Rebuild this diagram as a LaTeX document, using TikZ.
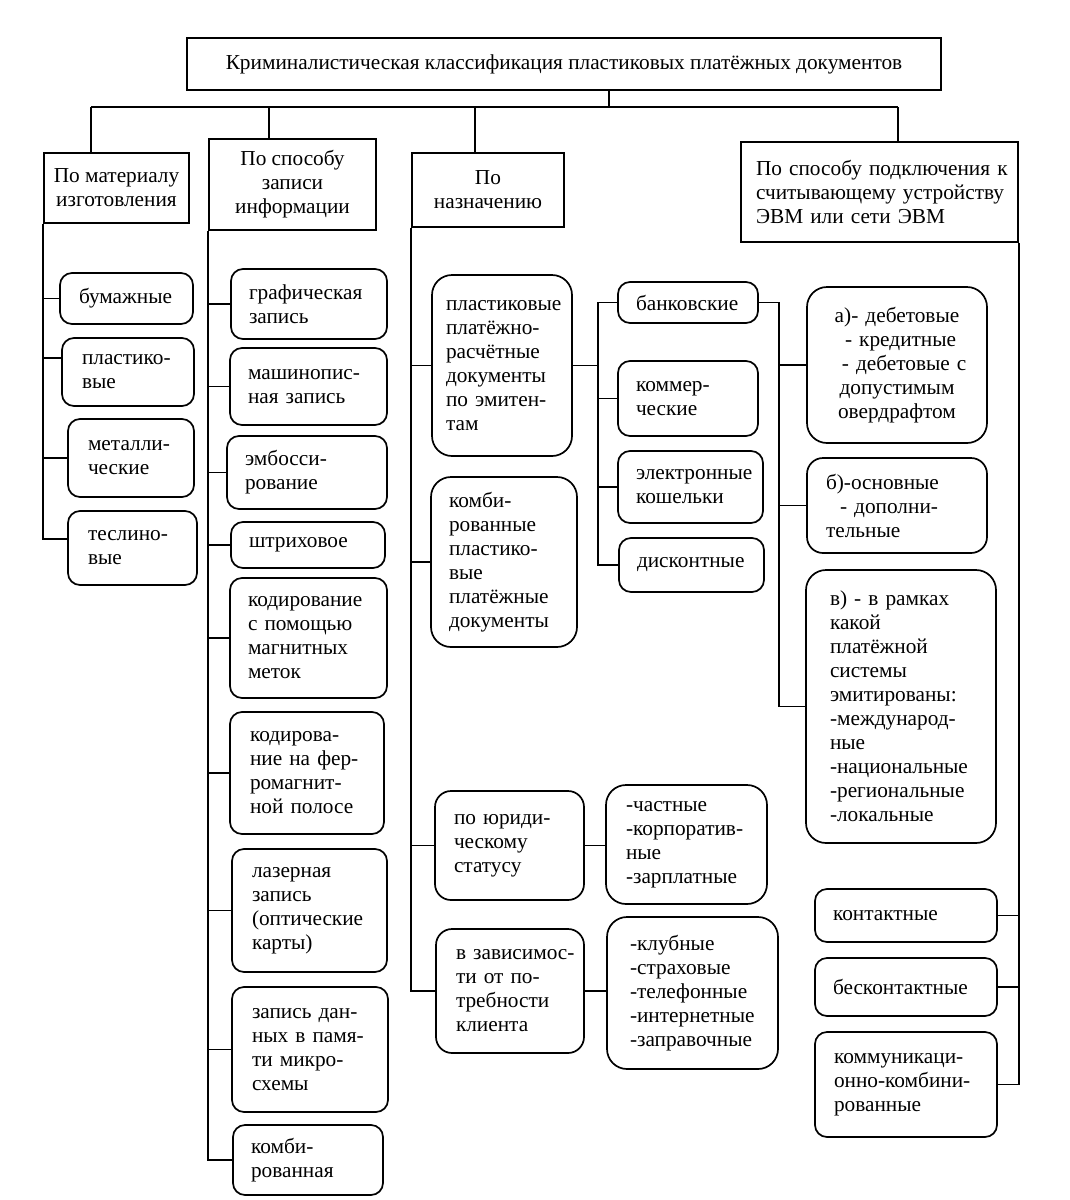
\documentclass[tikz,border=0pt]{standalone}
\usepackage{fontspec}
\setmainfont{Liberation Serif}
\usepackage{tikz}
\tikzstyle{head} = [rectangle, draw=black, line width=1.7pt, inner xsep=14pt, inner ysep=0pt, align=center]
\tikzstyle{leaf} = [rectangle, rounded corners=12pt, draw=black, line width=1.7pt, inner xsep=18pt, inner ysep=0pt, align=left, execute at begin node={\exhyphenpenalty=10000}]
\tikzstyle{bigleaf} = [leaf, rounded corners=20pt]
\tikzstyle{line} = [draw, line width=1.7pt]

\begin{document}
\begin{tikzpicture}[x=1pt, y=-1pt, font=\fontsize{21.3}{24}\selectfont]
    \useasboundingbox (0,0) rectangle (1069,1200);
    % Nodes
    \node [head, minimum width=754pt, minimum height=52pt] (title) at (564,64) {Криминалистическая классификация пластиковых платёжных документов};
    \node [head, minimum width=145pt, minimum height=70pt, inner xsep=2pt] (mat) at (116.5,188) {По материалу\\изготовления};
    \node [head, minimum width=167pt, minimum height=91pt] (zap) at (292.5,184.5) {По способу\\записи\\информации};
    \node [head, minimum width=152pt, minimum height=74pt] (nazn) at (488,190) {По\\назначению};
    \node [head, align=left, text width=247pt, minimum height=100pt, inner xsep=15pt] (con) at (879.5,192) {По~способу~подключения~к\\считывающему~устройству\\ЭВМ~или~сети~ЭВМ};

    % material
    \node [leaf, text width=95pt, minimum height=51pt, inner xsep=19pt] (bum) at (126.5,298.5) {бумажные};
    \node [leaf, text width=92pt, minimum height=68pt, inner xsep=20pt] (plast) at (128,372) {пластико-\\вые};
    \node [leaf, text width=86pt, minimum height=78pt, inner xsep=20pt] (met) at (131,458) {металли-\\ческие};
    \node [leaf, text width=89pt, minimum height=74pt, inner xsep=20pt] (tesl) at (132.5,548) {теслино-\\вые};

    % recording
    \node [leaf, text width=120pt, minimum height=70pt] (graf) at (309,304) {графическая\\запись};
    \node [leaf, text width=121pt, minimum height=77pt] (mash) at (308.5,386.5) {машинопис-\\ная~запись};
    \node [leaf, text width=124pt, minimum height=73pt] (emb) at (307,472.5) {эмбосси-\\рование};
    \node [leaf, text width=118pt, minimum height=46pt] (shtr) at (308,545) {штриховое};
    \node [leaf, text width=121pt, minimum height=120pt] (magn) at (308.5,638) {кодирование\\с~помощью\\магнитных\\меток};
    \node [leaf, text width=114pt, minimum height=122pt, inner xsep=20pt] (ferro) at (307,773) {кодирова-\\ние~на~фер-\\ромагнит-\\ной~полосе};
    \node [leaf, text width=115pt, minimum height=123pt, inner xsep=20pt] (laser) at (309.5,910.5) {лазерная\\запись\\(оптические\\карты)};
    \node [leaf, text width=116pt, minimum height=125pt, inner xsep=20pt] (micro) at (310,1049.5) {запись~дан-\\ных~в~памя-\\ти~микро-\\схемы};
    \node [leaf, text width=114pt, minimum height=70pt] (kombz) at (308,1160) {комби-\\рованная};

    % purpose
    \node [bigleaf, text width=112pt, minimum height=181pt, inner xsep=14pt] (plat) at (502,365.5) {пластиковые\\платёжно-\\расчётные\\документы\\по~эмитен-\\там};
    \node [bigleaf, text width=110pt, minimum height=170pt] (kombd) at (504,562) {комби-\\рованные\\пластико-\\вые\\платёжные\\документы};
    \node [leaf, rounded corners=16pt, text width=111pt, minimum height=109pt, inner xsep=19pt] (yur) at (509.5,845.5) {по~юриди-\\ческому\\статусу};
    \node [leaf, rounded corners=16pt, text width=108pt, minimum height=124pt, inner xsep=20pt] (zavis) at (510,991) {в~зависимос-\\ти~от~по-\\требности\\клиента};
    \node [bigleaf, text width=121pt, minimum height=119pt, inner xsep=20pt] (chast) at (686.5,844.5) {-частные\\-корпоратив-\\ные\\-зарплатные};
    \node [bigleaf, text width=125pt, minimum height=152pt, inner xsep=23pt] (klub) at (692.5,993) {-клубные\\-страховые\\-телефонные\\-интернетные\\-заправочные};

    % issuers
    \node [leaf, text width=104pt, minimum height=41pt] (bank) at (688,302.5) {банковские};
    \node [leaf, text width=104pt, minimum height=75pt] (comm) at (688,398.5) {коммер-\\ческие};
    \node [leaf, text width=109pt, minimum height=72pt] (elec) at (690.5,487) {электронные\\кошельки};
    \node [leaf, text width=109pt, minimum height=54pt] (disc) at (691.5,565) {дисконтные};

    % bank cards
    \node [bigleaf, align=center, text width=148pt, minimum height=156pt, inner xsep=16pt] (adeb) at (897,365) {а)-~дебетовые\\ \ -~кредитные\\ \ \ -~дебетовые~с\\допустимым\\овердрафтом};
    \node [leaf, rounded corners=16pt, text width=142pt, minimum height=95pt, inner xsep=19pt] (bosn) at (897,505.5) {б)-основные\\\hspace*{14pt}-~дополни-\\тельные};
    \node [bigleaf, text width=142pt, minimum height=273pt, inner xsep=24pt] (vsys) at (901,706.5) {в)~-~в~рамках\\какой\\платёжной\\системы\\эмитированы:\\-международ-\\ные\\-национальные\\-региональные\\-локальные};

    % connection
    \node [leaf, text width=146pt, minimum height=53pt] (kont) at (906,915.5) {контактные};
    \node [leaf, text width=146pt, minimum height=58pt] (bkont) at (906,987) {бесконтактные};
    \node [leaf, text width=144pt, minimum height=105pt, inner xsep=19pt] (kommun) at (906,1084.5) {коммуникаци-\\онно-комбини-\\рованные};

    % Coordinates
    \coordinate (bus) at (609,107);
    \coordinate (d1) at (91,107);
    \coordinate (d2) at (269,107);
    \coordinate (d3) at (475,107);
    \coordinate (d4) at (898,107);
    \coordinate (s4) at (598,0);
    \coordinate (s5) at (779,0);

    % Edges
    \path [line] (title.south -| bus) -- (bus);
    \path [line] (d1) -- (d4);
    \path [line] (d1) -- (d1 |- mat.north);
    \path [line] (d2) -- (d2 |- zap.north);
    \path [line] (d3) -- (d3 |- nazn.north);
    \path [line] (d4) -- (d4 |- con.north);

    \path [line] (mat.south west) |- ([yshift=9pt]tesl.west);
    \path [line] (mat.south west |- bum.west) -- (bum.west);
    \path [line] ([yshift=14pt]plast.west -| mat.south west) -- ([yshift=14pt]plast.west);
    \path [line] (mat.south west |- met.west) -- (met.west);

    \path [line] (zap.south west) |- (kombz.west);
    \foreach \n in {graf, mash, emb, shtr, magn, ferro, laser, micro}
        \path [line] (zap.south west |- \n.west) -- (\n.west);

    \path [line] (nazn.south west) |- (zavis.west);
    \foreach \n in {plat, kombd, yur}
        \path [line] (nazn.south west |- \n.west) -- (\n.west);

    \path [line] (plat.east) -- (s4 |- plat.east);
    \path [line] (bank.west) -| (s4 |- disc.west) -- (disc.west);
    \foreach \n in {comm, elec}
        \path [line] (s4 |- \n.west) -- (\n.west);

    \path [line] (bank.east) -| (s5 |- vsys.west) -- (vsys.west);
    \foreach \n in {adeb, bosn}
        \path [line] (s5 |- \n.west) -- (\n.west);

    \path [line] (yur.east) -- (yur.east -| chast.west);
    \path [line] (zavis.east) -- (zavis.east -| klub.west);

    \path [line] (con.south east) |- (kommun.east);
    \foreach \n in {kont, bkont}
        \path [line] (con.south east |- \n.east) -- (\n.east);
\end{tikzpicture}
\end{document}
